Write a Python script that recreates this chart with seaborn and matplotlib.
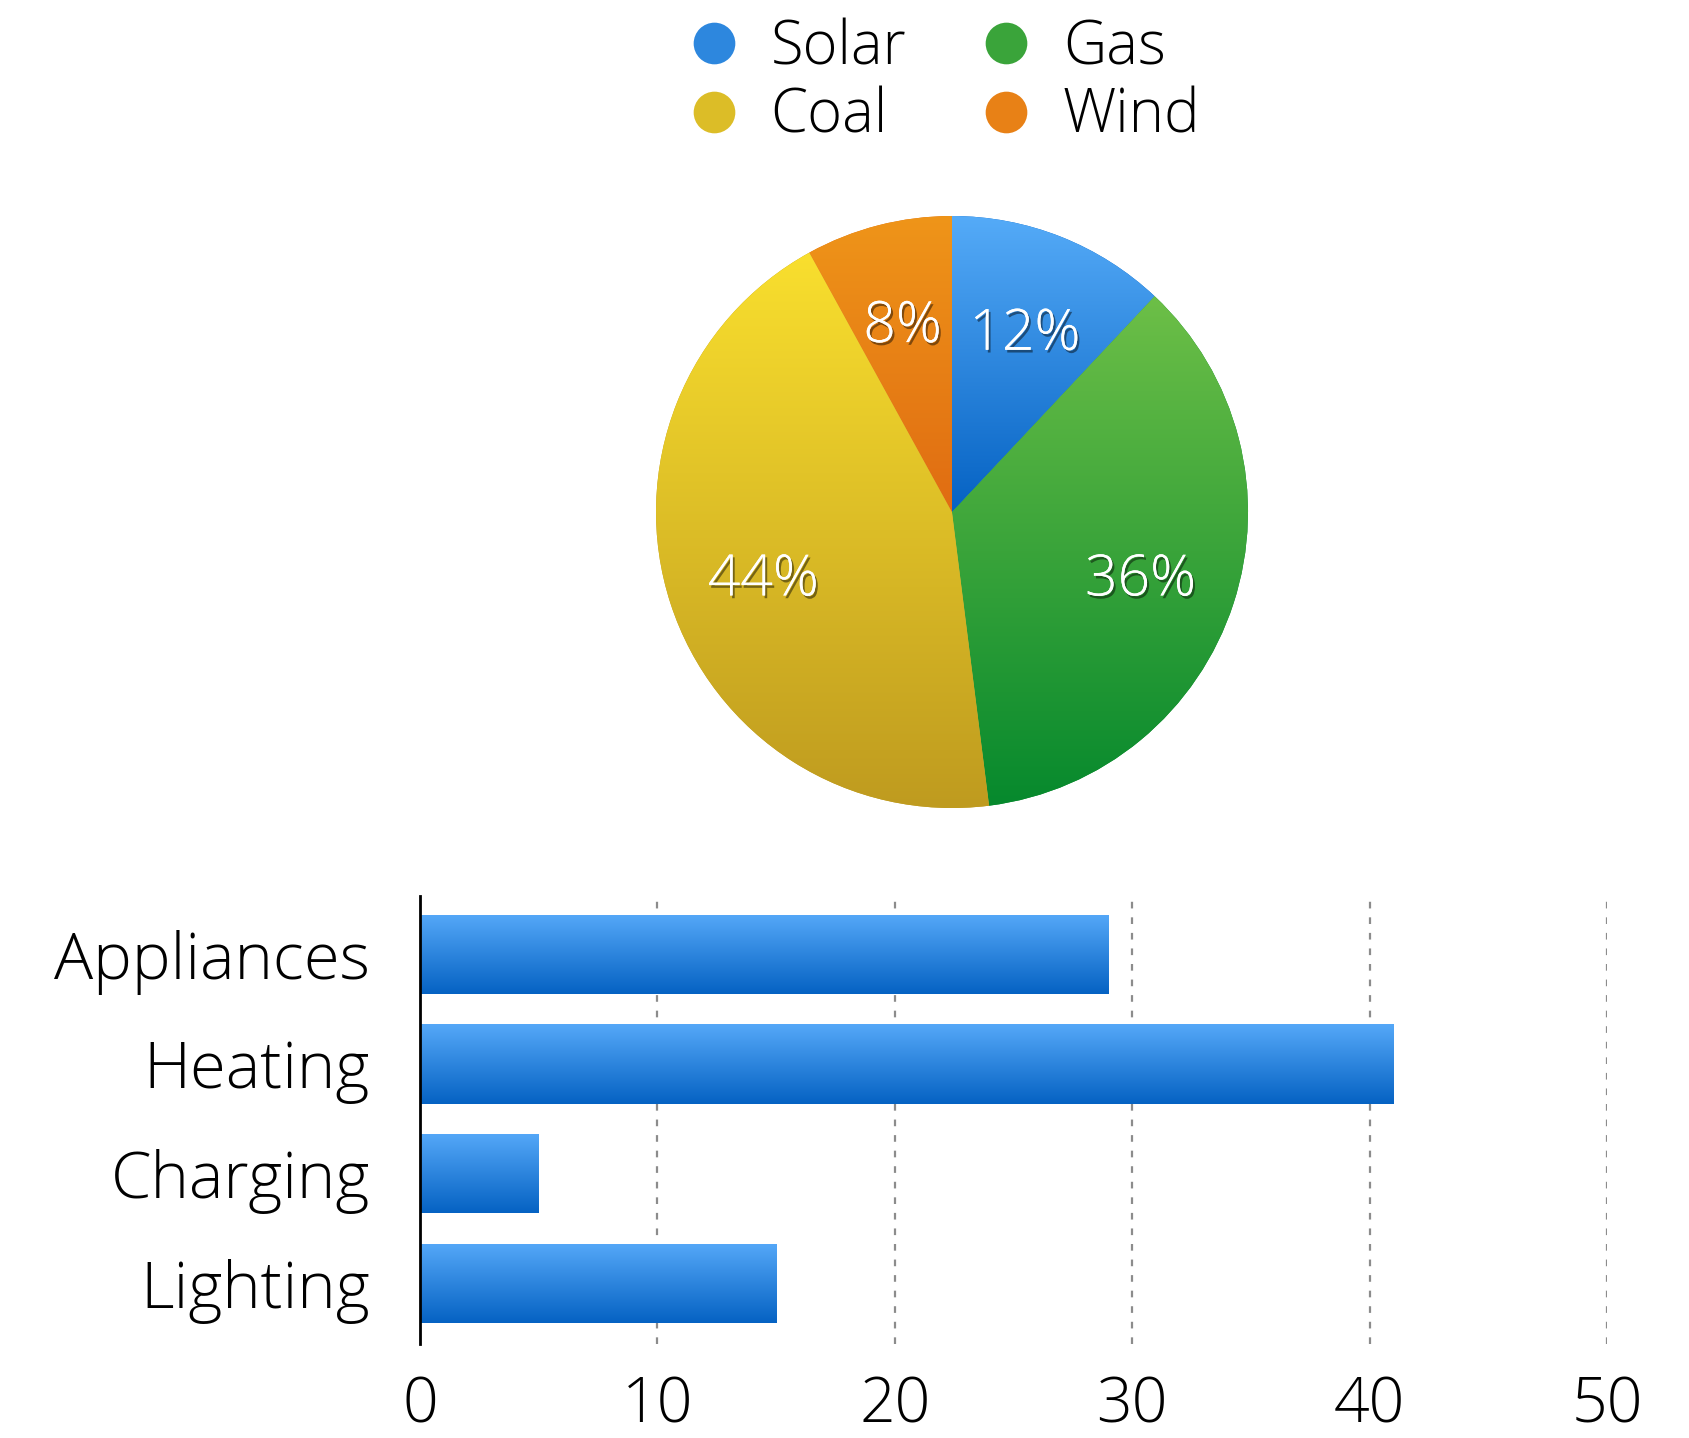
import numpy as np
import pandas as pd
import matplotlib
matplotlib.use('Agg')
import matplotlib.pyplot as plt
import matplotlib.patheffects as pe
from matplotlib.colors import LinearSegmentedColormap
from matplotlib.lines import Line2D
import seaborn as sns

# Data
sources = ['Solar', 'Gas', 'Coal', 'Wind']
shares = [12, 36, 44, 8]
source_top = ['#55abf8', '#6dbf47', '#f9df2e', '#ef9519']
source_bottom = ['#0562c3', '#06892d', '#bf9b1f', '#e06c12']
legend_order = ['Solar', 'Coal', 'Gas', 'Wind']

uses = ['Appliances', 'Heating', 'Charging', 'Lighting']
use_values = [29, 41, 5, 15]
bar_top = '#55a8f8'
bar_bottom = '#0562c3'
x_ticks = [0, 10, 20, 30, 40, 50]

sns.set_theme(style='white')
plt.rcParams['font.family'] = ['Open Sans', 'DejaVu Sans']
plt.rcParams['font.weight'] = 'light'
plt.rcParams['text.color'] = 'black'
plt.rcParams['xtick.color'] = 'black'
plt.rcParams['ytick.color'] = 'black'


def fill_gradient(ax, patch, top, bottom):
    """Overlay a vertical gradient clipped to a patch."""
    bb = patch.get_window_extent()
    inv = ax.transData.inverted()
    (x0, y0), (x1, y1) = inv.transform([(bb.x0, bb.y0), (bb.x1, bb.y1)])
    cmap = LinearSegmentedColormap.from_list('g', [bottom, top])
    grad = np.linspace(0, 1, 256).reshape(-1, 1)
    im = ax.imshow(grad, cmap=cmap, origin='lower', aspect='auto',
                   extent=(x0, x1, y0, y1), interpolation='bilinear',
                   zorder=patch.get_zorder() + 0.1)
    im.set_clip_path(patch)


fig = plt.figure(figsize=(16.89, 14.38), dpi=100)

# Pie chart.
ax_pie = fig.add_axes([0.3884, 0.4381, 0.3505, 0.4117])
wedges, texts, autotexts = ax_pie.pie(
    shares, startangle=90, counterclock=False, colors=source_bottom,
    autopct='%d%%', pctdistance=0.67, wedgeprops=dict(linewidth=0),
    textprops=dict(color='white', fontsize=41))
ax_pie.set_xlim(-1, 1)
ax_pie.set_ylim(-1, 1)
ax_pie.set_aspect('equal')
for w, t, b in zip(wedges, source_top, source_bottom):
    fill_gradient(ax_pie, w, t, b)
ax_pie.set_xlim(-1, 1)
ax_pie.set_ylim(-1, 1)
for t in autotexts:
    t.set_zorder(10)
    x, y = t.get_position()
    t.set_position((x, y - 0.025))
    t.set_path_effects([pe.withSimplePatchShadow(offset=(1.5, -2), alpha=0.45,
                                                 shadow_rgbFace='black'),
                        pe.Normal()])

handles = []
for name in legend_order:
    i = sources.index(name)
    mid = LinearSegmentedColormap.from_list(
        'm', [source_bottom[i], source_top[i]])(0.5)
    handles.append(Line2D([], [], marker='o', linestyle='none',
                          markersize=30, markeredgewidth=0,
                          markerfacecolor=mid, label=name))
fig.legend(handles=handles, ncol=2, loc='center',
           bbox_to_anchor=(0.5605, 0.9425), frameon=False, fontsize=43,
           handlelength=0.7, handletextpad=0.6, columnspacing=1.32,
           labelspacing=0.11)

# Bar chart.
ax_bar = fig.add_axes([0.2487, 0.0654, 0.7028, 0.3115])
df = pd.DataFrame({'use': uses, 'value': use_values})
sns.barplot(data=df, x='value', y='use', orient='h', color=bar_bottom,
            width=0.72, ax=ax_bar, zorder=3)
ax_bar.set_xlim(0, 50)
ax_bar.set_ylim(3.55, -0.53)
for p in ax_bar.patches:
    p.set_linewidth(0)
    fill_gradient(ax_bar, p, bar_top, bar_bottom)
ax_bar.set_xlim(0, 50)
ax_bar.set_ylim(3.55, -0.53)

ax_bar.set_xticks(x_ticks)
for x in x_ticks[1:]:
    ax_bar.axvline(x, color='#8c8c8c', linestyle=(0, (3, 4)), linewidth=1.6,
                   zorder=1)
ax_bar.set_xlabel('')
ax_bar.set_ylabel('')
ax_bar.tick_params(axis='x', labelsize=45, length=0, pad=22)
ax_bar.tick_params(axis='y', labelsize=47, length=0, pad=36)
for s in ['top', 'right', 'bottom']:
    ax_bar.spines[s].set_visible(False)
ax_bar.spines['left'].set_color('black')
ax_bar.spines['left'].set_linewidth(2)
ax_bar.spines['left'].set_zorder(5)

fig.savefig('out.png', dpi=100, facecolor='white')
